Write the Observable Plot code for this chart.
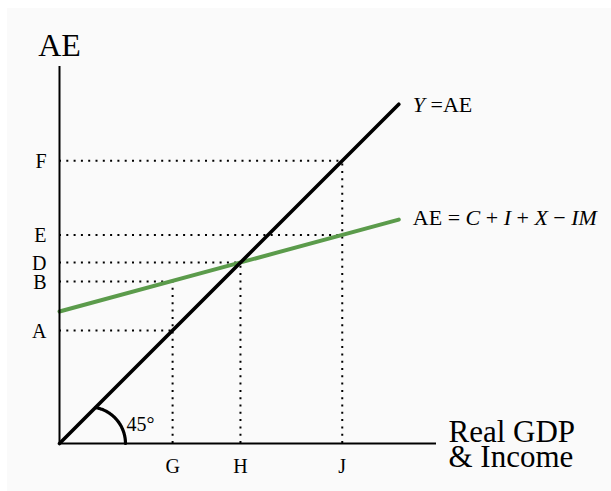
<!DOCTYPE html>
<html>
<head>
<meta charset="utf-8">
<script src="https://cdn.jsdelivr.net/npm/d3@7"></script>
<script src="https://cdn.jsdelivr.net/npm/@observablehq/plot@0.6"></script>
<style>
  body { margin: 0; background: #ffffff; }
  #chart { position: absolute; left: 7px; top: 8px; }
</style>
</head>
<body>
<div id="chart"></div>
<script>
// ---- data ----
const yTickValues = [30, 43, 48, 55.3, 75];
const yTickLabels = ["A", "B", "D", "E", "F"];
const xTickValues = [30, 48, 75];
const xTickLabels = ["G", "H", "J"];

const diagX = [0, 90];           // Y = AE (45° line)
const diagY = [0, 90];
const aeX = [0, 90];             // AE = C + I + X − IM
const aeY = [35, 59.4];

// dotted guide lines: horizontal (level, end x) and vertical (position, end y)
const hLevels = [75, 55.3, 48, 43, 30];
const hEnds   = [75, 75, 48, 30, 30];
const vPositions = [30, 48, 75];
const vEnds      = [43, 48, 75];

// 45° angle arc: centre on x axis, radius, angles (degrees)
const arcCentre = 7.8, arcRadius = 9.7, arcFrom = 0, arcTo = 79;

const yTitle = "AE";
const xTitleLines = ["Real GDP", "& Income"];
const angleLabel = "45°";
const diagLabel = [["Y", true], [" =", false], ["AE", false]];
const aeLabel = [["AE", false], [" = ", false], ["C", true], [" + ", false], ["I", true],
                 [" + ", false], ["X", true], [" − ", false], ["IM", true]];

// ---- build ----
const diag = diagX.map((x, i) => ({x, y: diagY[i]}));
const ae = aeX.map((x, i) => ({x, y: aeY[i]}));
const hLines = hLevels.map((y, i) => ({y, x2: hEnds[i]}));
const vLines = vPositions.map((x, i) => ({x, y2: vEnds[i]}));
const yTicks = yTickValues.map((v, i) => ({v, label: yTickLabels[i]}));
const xTicks = xTickValues.map((v, i) => ({v, label: xTickLabels[i]}));
const arc = d3.range(arcFrom, arcTo + 0.5, 1).map(a => ({
  x: arcCentre + arcRadius * Math.cos(a * Math.PI / 180),
  y: arcRadius * Math.sin(a * Math.PI / 180)
}));
const plainText = parts => parts.map(p => p[0]).join("");

const dotted = {stroke: "#000", strokeWidth: 2, strokeDasharray: "2,5.3"};

const chart = Plot.plot({
  width: 604,
  height: 483,
  marginLeft: 52,
  marginRight: 175,
  marginTop: 58,
  marginBottom: 48,
  x: {domain: [0, 100], axis: null},
  y: {domain: [0, 100], axis: null},
  style: {background: "#fafafa", fontFamily: "'Liberation Serif', 'DejaVu Serif', serif", fontSize: "20px", color: "#000", overflow: "visible"},
  marks: [
    Plot.ruleY(hLines, {y: "y", x1: () => 0, x2: "x2", ...dotted}),
    Plot.ruleX(vLines, {x: "x", y1: () => 0, y2: "y2", ...dotted}),
    Plot.line(ae, {x: "x", y: "y", stroke: "#5b9b4b", strokeWidth: 4}),
    Plot.line(diag, {x: "x", y: "y", stroke: "#000", strokeWidth: 3.6}),
    Plot.line(arc, {x: "x", y: "y", stroke: "#000", strokeWidth: 3.2, curve: "linear"}),
    Plot.ruleX([0], {x: d => d, y1: () => 0, y2: () => 100, stroke: "#000", strokeWidth: 2}),
    Plot.ruleY([0], {y: d => d, x1: () => 0, x2: () => 100, stroke: "#000", strokeWidth: 2}),
    Plot.text(yTicks, {x: () => 0, y: "v", text: "label", textAnchor: "end", dx: -13, dy: 1, fontSize: 20, fill: "#000"}),
    Plot.text(xTicks, {x: "v", y: () => 0, text: "label", textAnchor: "middle", dy: 23, fontSize: 20, fill: "#000"}),
    Plot.text([yTitle], {x: () => 0, y: () => 100, text: d => d, textAnchor: "middle", dy: -21, fontSize: 32, fill: "#000"}),
    Plot.text([xTitleLines[0]], {x: () => 100, y: () => 0, text: d => d, textAnchor: "start", dx: 12, dy: -11, fontSize: 31, fill: "#000"}),
    Plot.text([xTitleLines[1]], {x: () => 100, y: () => 0, text: d => d, textAnchor: "start", dx: 12, dy: 14, fontSize: 31, fill: "#000"}),
    Plot.text([angleLabel], {x: () => arcCentre + arcRadius, y: () => 0, text: d => d, textAnchor: "start", dx: 1, dy: -19, fontSize: 20, fill: "#000"}),
    Plot.text([diag[diag.length - 1]], {x: "x", y: "y", text: () => plainText(diagLabel), textAnchor: "start", dx: 14, dy: 1, fontSize: 22, fill: "#000"}),
    Plot.text([ae[ae.length - 1]], {x: "x", y: "y", text: () => plainText(aeLabel), textAnchor: "start", dx: 14, dy: -2, fontSize: 22, fill: "#000"})
  ]
});

function richify(svg, parts) {
  const plain = plainText(parts);
  d3.select(svg).selectAll("text").filter(function() { return this.textContent === plain; }).each(function() {
    const t = d3.select(this);
    t.text(null);
    for (const [s, it] of parts) {
      const ts = t.append("tspan").text(s);
      if (it) ts.attr("font-style", "italic");
    }
    t.attr("xml:space", "preserve").style("white-space", "pre");
  });
}
richify(chart, diagLabel);
richify(chart, aeLabel);

document.getElementById("chart").appendChild(chart);
</script>
</body>
</html>
